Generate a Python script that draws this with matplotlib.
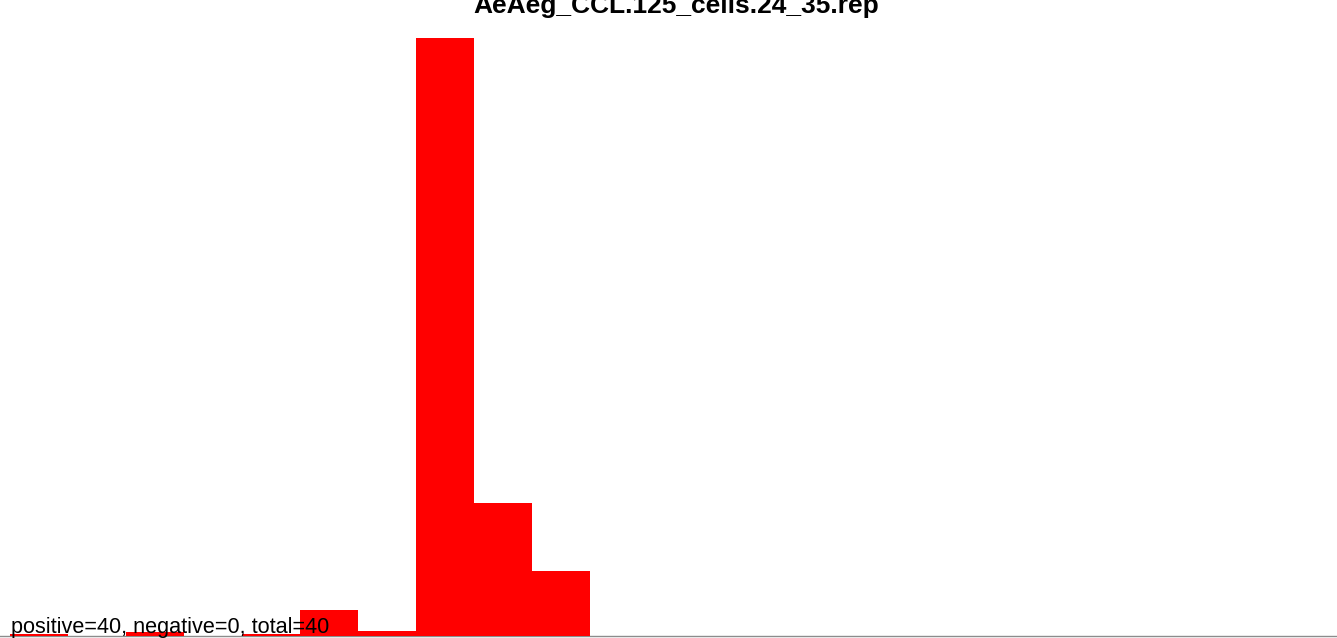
import matplotlib
matplotlib.use("Agg")
import matplotlib.pyplot as plt
import numpy as np

title = "AeAeg_CCL.125_cells.24_35.rep"
note = "positive=40, negative=0, total=40"
bin_index = [0, 1, 2, 3, 4, 5, 6, 7, 8, 9]
values = [1.5, 0.0, 3.5, 0.0, 2.0, 25.5, 4.5, 597.5, 132.5, 64.5]

W, H = 1337, 638
fig = plt.figure(figsize=(W / 100, H / 100), dpi=100)
base_px = 635.5
top_px = 38
ax = fig.add_axes([0, (H - base_px) / H, 1, (base_px - top_px) / H])
px_per_bin = 58.0
left_px = 10.0
ax.set_xlim(-left_px / px_per_bin, -left_px / px_per_bin + W / px_per_bin)
ax.set_ylim(0, max(values))
ax.bar(bin_index, values, width=1.0, align="edge", color="#ff0000", linewidth=0, zorder=3)
for s in ["top", "left", "right"]:
    ax.spines[s].set_visible(False)
ax.spines["bottom"].set_color("#8c8c8c")
ax.spines["bottom"].set_linewidth(1.0)
ax.spines["bottom"].set_zorder(1)
ax.set_xticks([])
ax.set_yticks([])
ax.patch.set_alpha(0)

fig.text(11 / W, (H - 633) / H, note, fontsize=15.6, family="Liberation Sans",
         color="black", ha="left", va="baseline", zorder=5)
fig.text(676.5 / W, (H - 13) / H, title, fontsize=19, family="Liberation Sans",
         weight="bold", color="black", ha="center", va="baseline")
fig.savefig("out.png", dpi=100)
